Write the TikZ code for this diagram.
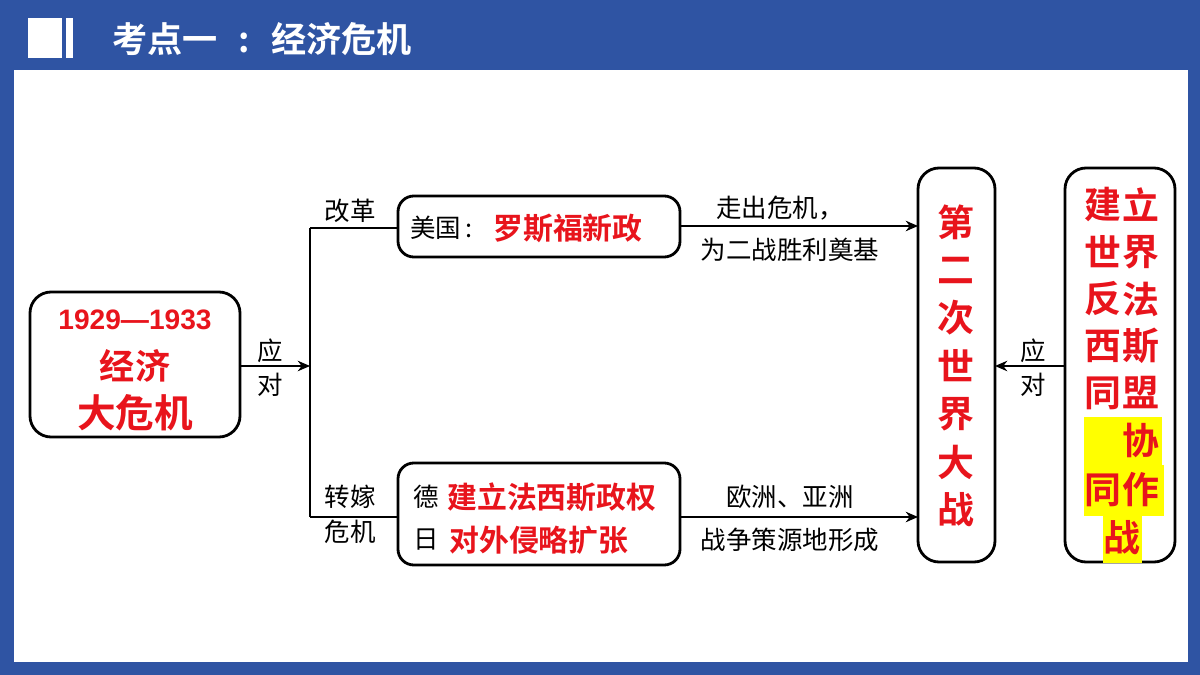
\documentclass[tikz,border=0pt]{standalone}
\usepackage{fontspec}
\usetikzlibrary{arrows.meta}
\newfontfamily\cjk{Noto Sans CJK SC}[BoldFont={Noto Sans CJK SC Bold}]
\newfontfamily\cjkb{Noto Sans CJK SC Bold}
\newfontfamily\arialb{Liberation Sans Bold}
\definecolor{frameblue}{HTML}{2F54A3}
\definecolor{redt}{HTML}{E8141C}
\definecolor{hl}{HTML}{FFFF00}
\tikzset{
 box/.style={draw=black,line width=1.6pt,rounded corners=12pt},
 lbl/.style={font=\cjk\fontsize{14.5}{15}\selectfont,inner sep=0pt},
 rt/.style={font=\cjkb\fontsize{17}{18}\selectfont,text=redt,inner sep=0pt},
 bigr/.style={font=\cjkb\fontsize{21}{22}\selectfont,text=redt,inner sep=0pt},
 arr/.style={line width=1pt,-{Stealth[length=7pt,width=6pt]}},
 ln/.style={line width=1pt}
}
\begin{document}
\begin{tikzpicture}[x=0.02cm,y=-0.02cm]
\fill[frameblue] (0,0) rectangle (1200,675);
\fill[white] (14,70) rectangle (1188,662);
\fill[white] (28,18) rectangle (62,58);
\fill[white] (66,18) rectangle (73,58);
\node[font=\cjkb\fontsize{20}{21}\selectfont,text=white,anchor=west,inner sep=0pt] (title) at (112,39) {考点一\hspace{0.6em}:\hspace{0.6em}经济危机};
% left box
\draw[box] (30,292) rectangle (240,437);
\node[coordinate] (L) at (240,366) {};
\node[font=\arialb\fontsize{16}{17}\selectfont,text=redt,inner sep=0pt] (yr) at (135,320) {1929—1933};
\node[bigr,font=\cjkb\fontsize{20}{21}\selectfont] (jj) at (135,366) {经济};
\node[bigr,font=\cjkb\fontsize{22}{23}\selectfont] (dwj) at (135,413) {大危机};
\coordinate (J) at (310,366);
\draw[arr] (L) -- (J);
\node[lbl] at (270,351) {应};
\node[lbl] at (270,385) {对};
\coordinate (JT) at (310,228);
\coordinate (JB) at (310,517);
\draw[ln] (JT) -- (JB);
% top box
\draw[box,rounded corners=9pt] (398,196) rectangle (680,257);
\node[coordinate] (TL) at (398,228) {};
\node[coordinate] (TR) at (680,226) {};
\draw[ln] (JT) -- (TL);
\node[lbl] at (350,211) {改革};
\node[lbl,anchor=west] at (410,228) {美国\,:};
\node[rt,anchor=west] at (493,228) {罗斯福新政};
% bottom box
\draw[box,rounded corners=9pt] (398,463) rectangle (680,565);
\node[coordinate] (BL) at (398,517) {};
\node[coordinate] (BR) at (680,517) {};
\draw[ln] (JB) -- (BL);
\node[lbl] at (350,497) {转嫁};
\node[lbl] at (350,532) {危机};
\node[lbl] at (426,497) {德};
\node[lbl] at (426,540) {日};
\node[rt,anchor=west] at (447,497) {建立法西斯政权};
\node[rt,anchor=west] at (449,540) {对外侵略扩张};
% middle box
\draw[box] (918,168) rectangle (995,562);
\node[coordinate] (MT) at (918,226) {};
\node[coordinate] (MB) at (918,517) {};
\node[coordinate] (MR) at (995,366) {};
\draw[arr] (TR) -- (MT);
\draw[arr] (BR) -- (MB);
\node[lbl] at (780,208) {走出危机，};
\node[lbl] at (790,250) {为二战胜利奠基};
\node[lbl] at (790,497) {欧洲、亚洲};
\node[lbl] at (790,540) {战争策源地形成};
\foreach \c [count=\i from 0] in {第,二,次,世,界,大,战}
  \node[bigr] at (956,222+48*\i) {\c};
% right box
\draw[box] (1065,168) rectangle (1175,562);
\node[coordinate] (RL) at (1065,366) {};
\draw[arr] (RL) -- (MR);
\node[lbl] at (1033,351) {应};
\node[lbl] at (1033,385) {对};
\fill[hl] (1084,417) rectangle (1162,465);
\fill[hl] (1084,465) rectangle (1164,516);
\fill[hl] (1103,516) rectangle (1142,563);
\foreach \a/\b [count=\i from 0] in {建/立,世/界,反/法,西/斯,同/盟}{
  \node[bigr] at (1103,205+47*\i) {\a};
  \node[bigr] at (1141,205+47*\i) {\b};
}
\node[bigr] at (1141,440) {协};
\node[bigr] at (1103,490) {同};
\node[bigr] at (1141,490) {作};
\node[bigr] at (1122,538) {战};
\end{tikzpicture}
\end{document}
